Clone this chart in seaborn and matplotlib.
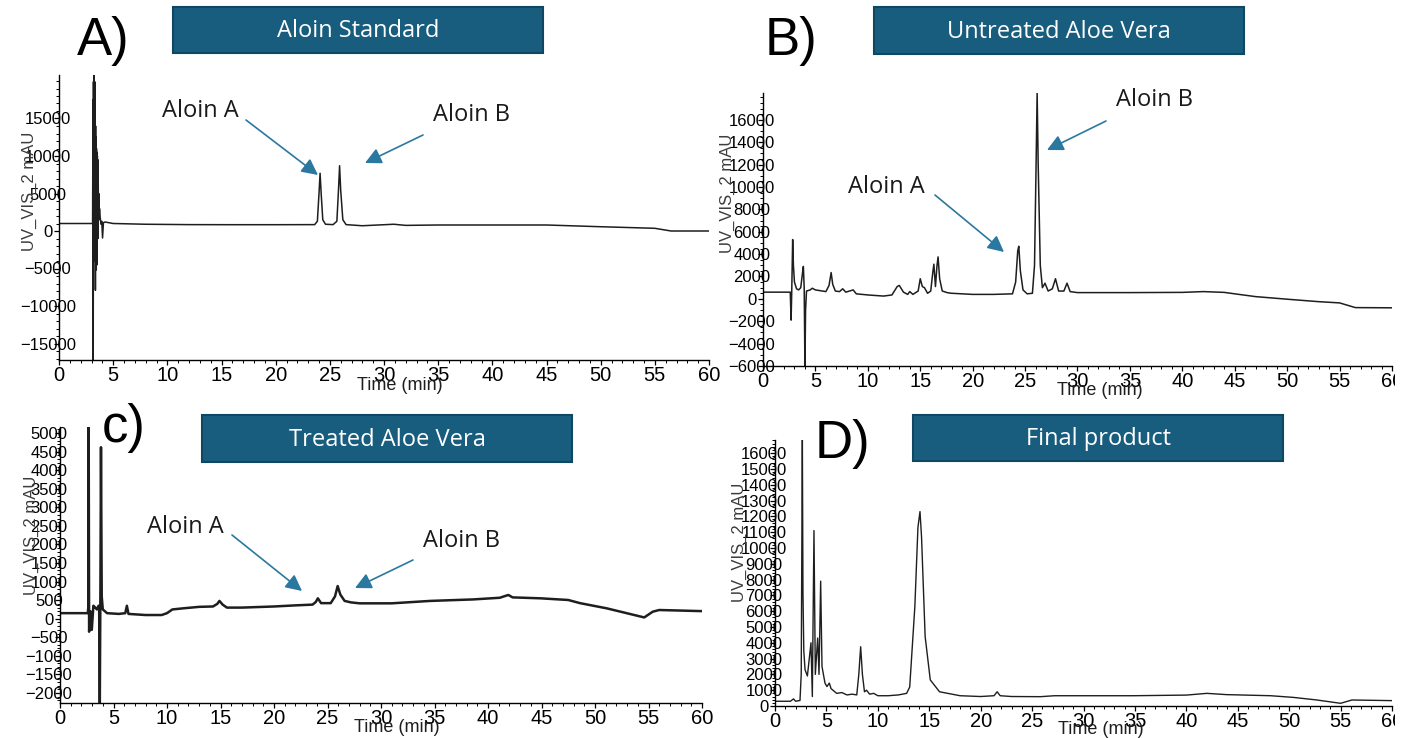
import matplotlib
matplotlib.use("Agg")
import matplotlib.pyplot as plt
import pandas as pd
import seaborn as sns
from matplotlib.patches import Rectangle, FancyArrowPatch
from matplotlib.ticker import MultipleLocator
from matplotlib.transforms import Bbox

# ---------------------------------------------------------------------------
# Chromatogram traces (retention time in min, UV_VIS_2 signal in mAU)
# ---------------------------------------------------------------------------
std_time = [0, 2.0, 3.10, 3.14, 3.16, 3.18, 3.20, 3.22, 3.24, 3.26, 3.28, 3.30,
            3.32, 3.34, 3.36, 3.38, 3.40, 3.42, 3.44, 3.46, 3.48, 3.50, 3.52,
            3.54, 3.56, 3.58, 3.60, 3.62, 3.64, 3.67, 3.70, 3.74, 3.80, 3.88,
            3.95, 4.02, 4.10, 4.25, 5, 8, 12, 16, 20, 23.6, 23.85, 24.0, 24.1,
            24.2, 24.35, 24.6, 25.3, 25.65, 25.8, 25.9, 26.0, 26.2, 26.5, 28,
            30.9, 32, 35, 40, 45, 50, 55, 56.5, 60]
std_signal = [1000, 1000, 1000, 17500, -17300, 19900, -1000, 20800, 800, 18000,
              -4000, 19900, 2000, 16500, -7900, 14000, -3000, 12500, -5200,
              11000, -2000, 10500, -4500, 10000, 1000, 9500, -1000, 7000, 2500,
              5000, 1500, 3000, 1800, 900, 1300, -930, 1100, 1200, 1000, 900,
              850, 840, 840, 850, 1300, 5000, 7700, 5000, 1500, 900, 850, 1300,
              5500, 8700, 5500, 1500, 850, 700, 900, 750, 800, 800, 800, 570,
              360, 0, 0]

raw_time = [0, 2.6, 2.68, 2.74, 2.83, 2.90, 3.0, 3.2, 3.4, 3.6, 3.78, 3.85,
            3.93, 4.00, 4.06, 4.15, 4.5, 4.7, 5.0, 6.0, 6.3, 6.5, 6.65, 6.9,
            7.3, 7.6, 7.9, 8.6, 8.9, 10, 11.5, 12.3, 12.8, 13.0, 13.4, 13.8,
            14.0, 14.3, 14.8, 15.0, 15.2, 15.4, 15.7, 16.0, 16.2, 16.3, 16.45,
            16.6, 16.7, 16.85, 17.1, 17.6, 18, 20, 22, 23.8, 24.1, 24.3, 24.4,
            24.55, 24.8, 25.2, 25.7, 25.9, 26.05, 26.15, 26.25, 26.45, 26.65,
            26.9, 27.2, 27.6, 27.9, 28.2, 28.7, 29.0, 29.3, 30, 35, 40, 42, 44,
            45, 47, 50, 53, 55, 56.5, 60]
raw_signal = [600, 600, -1900, 600, 5300, 3000, 1500, 900, 800, 1000, 2400,
              2900, 1000, -6200, -1000, 700, 800, 950, 800, 650, 1200, 2350,
              1300, 700, 650, 900, 600, 800, 450, 350, 250, 350, 1100, 1200,
              600, 400, 650, 400, 700, 1800, 1100, 1000, 500, 700, 2400, 3100,
              1100, 3000, 3750, 1800, 700, 550, 500, 400, 400, 450, 1500, 4300,
              4700, 2500, 800, 450, 500, 3000, 12000, 18400, 12000, 3000, 1000,
              1400, 700, 900, 1800, 700, 700, 1400, 650, 560, 560, 580, 650,
              580, 450, 200, -30, -250, -360, -780, -800]

treated_time = [0, 2.6, 2.64, 2.68, 2.72, 2.85, 2.97, 3.12, 3.30, 3.45, 3.60,
                3.66, 3.72, 3.78, 3.83, 3.90, 4.0, 4.4, 5.5, 6.1, 6.25, 6.4, 8,
                9.5, 10, 10.5, 11.5, 13, 14.3, 14.7, 14.9, 15.2, 15.6, 17, 20,
                22, 23.6, 23.9, 24.1, 24.4, 25.3, 25.7, 25.95, 26.2, 26.6, 27.2,
                28, 31, 34.6, 38.6, 41.1, 41.9, 42.3, 44.9, 47.5, 48.6, 51.1,
                54.6, 55.4, 56, 60]
treated_signal = [150, 150, 300, 5170, -350, 200, -300, 350, 300, 250, 350,
                  300, -2300, 1000, 4620, 600, 250, 150, 130, 150, 350, 130,
                  100, 100, 150, 250, 280, 320, 330, 400, 480, 380, 300, 300,
                  330, 360, 380, 450, 550, 420, 420, 600, 880, 650, 480, 440,
                  415, 415, 480, 520, 565, 640, 575, 550, 505, 420, 280, 35,
                  190, 235, 205]

final_time = [0, 1.5, 1.8, 2.0, 2.43, 2.55, 2.66, 2.72, 2.80, 2.92, 3.15, 3.50,
              3.63, 3.79, 3.92, 4.15, 4.28, 4.44, 4.57, 4.86, 5.05, 5.28, 5.45,
              6.0, 6.5, 7.0, 7.5, 7.95, 8.15, 8.33, 8.5, 8.7, 8.9, 9.2, 9.6,
              10.0, 11, 12, 12.8, 13.1, 13.6, 13.9, 14.1, 14.25, 14.6, 15.1,
              16.0, 18, 20, 21.3, 21.6, 21.9, 23, 25.8, 27.2, 34.8, 40, 42,
              43.9, 48.2, 50.4, 52.7, 55, 56.1, 60]
final_signal = [300, 300, 450, 300, 350, 2000, 16900, 7100, 3500, 2300, 1900,
                4000, 600, 11100, 2000, 4300, 2000, 7900, 2500, 1450, 1230,
                1450, 1100, 800, 850, 700, 750, 700, 2000, 3750, 2000, 900,
                1000, 750, 800, 650, 650, 700, 800, 1200, 6300, 11300, 12300,
                10700, 4400, 1650, 900, 650, 600, 650, 900, 650, 600, 590, 650,
                650, 690, 800, 720, 650, 545, 380, 170, 380, 340]

# y-axis tick values per panel
std_yticks = list(range(-15000, 15001, 5000))
raw_yticks = list(range(-6000, 16001, 2000))
treated_yticks = list(range(-2000, 5001, 500))
final_yticks = list(range(0, 16001, 1000))
time_ticks = list(range(0, 61, 5))

panel_letters = ["A)", "B)", "c)", "D)"]
panel_titles = ["Aloin Standard", "Untreated Aloe Vera", "Treated Aloe Vera",
                "Final product"]
x_label = "Time (min)"
y_label = "UV_VIS_2 mAU"

# ---------------------------------------------------------------------------
# Figure layout (pixel based, 1409 x 738)
# ---------------------------------------------------------------------------
W, H = 1409, 738
sns.set_theme(style="white")
plt.rcParams["font.family"] = ["Liberation Sans", "DejaVu Sans"]

fig = plt.figure(figsize=(W / 100, H / 100), dpi=100)


def fx(x):
    return x / W


def fy(y):
    return 1 - y / H


def rect(left, top, right, bottom):
    return [fx(left), fy(bottom), (right - left) / W, (bottom - top) / H]


panels = [
    dict(time=std_time, signal=std_signal, yticks=std_yticks,
         box=(59, 75, 709, 360), ylim=(-17200, 20800), ymin=1000, lw=1.1,
         ylab=(-0.046, 0.593), xlab=(0.525, -0.09)),
    dict(time=raw_time, signal=raw_signal, yticks=raw_yticks,
         box=(763, 93, 1392, 366), ylim=(-6000, 18400), ymin=500, lw=1.1,
         ylab=(-0.056, 0.634), xlab=(0.536, -0.09)),
    dict(time=treated_time, signal=treated_signal, yticks=treated_yticks,
         box=(60, 427, 702, 703), ylim=(-2270, 5165), ymin=100, lw=1.8,
         ylab=(-0.045, 0.609), xlab=(0.525, -0.09)),
    dict(time=final_time, signal=final_signal, yticks=final_yticks,
         box=(775, 440, 1392, 706), ylim=(0, 16830), ymin=200, lw=1.0,
         ylab=(-0.058, 0.617), xlab=(0.528, -0.09)),
]

# tick labels are cut at the right edge of the page
page_clip = Bbox([[0, 0], [1395, H]])

for p in panels:
    ax = fig.add_axes(rect(*p["box"]))
    df = pd.DataFrame({"time": p["time"], "signal": p["signal"]})
    sns.lineplot(data=df, x="time", y="signal", ax=ax, color="#1e1e1e",
                 lw=p["lw"], estimator=None, sort=False)
    ax.set_xlim(0, 60)
    ax.set_ylim(*p["ylim"])
    ax.set_facecolor("none")
    for side in ("top", "right"):
        ax.spines[side].set_visible(False)
    for side in ("left", "bottom"):
        ax.spines[side].set_color("black")
        ax.spines[side].set_linewidth(1.0)

    ax.set_yticks(p["yticks"])
    ax.set_xticks(time_ticks)
    ax.xaxis.set_minor_locator(MultipleLocator(1))
    ax.yaxis.set_minor_locator(MultipleLocator(p["ymin"]))
    ax.tick_params(axis="both", which="major", direction="out", length=3.5,
                   width=0.9, color="black", labelcolor="black")
    ax.tick_params(axis="both", which="minor", direction="out", length=2,
                   width=0.7, color="black")
    ax.tick_params(axis="y", which="major", pad=4.5, labelsize=12)
    ax.tick_params(axis="x", which="major", pad=1, labelsize=14.5)
    ax.tick_params(left=True, bottom=True, which="both")
    plt.setp(ax.get_yticklabels(), ha="center")
    for lab in ax.get_xticklabels():
        lab.set_clip_on(True)
        lab.set_clip_box(page_clip)

    ax.set_xlabel(x_label, fontsize=13, color="#1e1e1e", va="center")
    ax.xaxis.set_label_coords(*p["xlab"])
    ax.set_ylabel(y_label, fontsize=12, color="#3c3c3c", va="center")
    ax.yaxis.set_label_coords(*p["ylab"])

# ---------------------------------------------------------------------------
# Panel letters and title banners
# ---------------------------------------------------------------------------
letter_pos = [(77, 55), (765, 55), (102, 442), (815, 458)]
for letter, (x, y) in zip(panel_letters, letter_pos):
    fig.text(fx(x), fy(y), letter, fontsize=38, ha="left", va="baseline",
             color="black")

banner_boxes = [(173, 7, 543, 53), (874, 7, 1244, 54), (202, 415, 572, 462),
                (913, 415, 1283, 461)]
for title, (l, t, r, b) in zip(panel_titles, banner_boxes):
    fig.add_artist(Rectangle((fx(l), fy(b)), (r - l) / W, (b - t) / H,
                             transform=fig.transFigure, facecolor="#185d7e",
                             edgecolor="#0f4763", lw=1.5))
    fig.text(fx((l + r) / 2), fy((t + b) / 2 + 1), title, fontsize=17,
             family=["Open Sans", "DejaVu Sans"], color="white",
             ha="center", va="center")

# ---------------------------------------------------------------------------
# Peak call-outs
# ---------------------------------------------------------------------------
callouts = [
    ("Aloin A", (162, 117), (246, 120), (318, 175)),
    ("Aloin B", (433, 121), (423, 135), (365, 163)),
    ("Aloin B", (1116, 106), (1106, 121), (1047, 150)),
    ("Aloin A", (848, 193), (935, 195), (1004, 252)),
    ("Aloin A", (147, 533), (232, 535), (302, 591)),
    ("Aloin B", (423, 547), (413, 560), (355, 588)),
]
for label, (tx, ty), start, end in callouts:
    fig.text(fx(tx), fy(ty), label, fontsize=17,
             family=["Open Sans", "DejaVu Sans"], color="#1a1a1a",
             ha="left", va="baseline")
    fig.add_artist(FancyArrowPatch((fx(start[0]), fy(start[1])),
                                   (fx(end[0]), fy(end[1])),
                                   transform=fig.transFigure,
                                   arrowstyle="-|>,head_length=0.7,head_width=0.35",
                                   mutation_scale=14, color="#2a78a0",
                                   lw=1.2, shrinkA=0, shrinkB=0))

fig.savefig("out.png", dpi=100, facecolor="white")
